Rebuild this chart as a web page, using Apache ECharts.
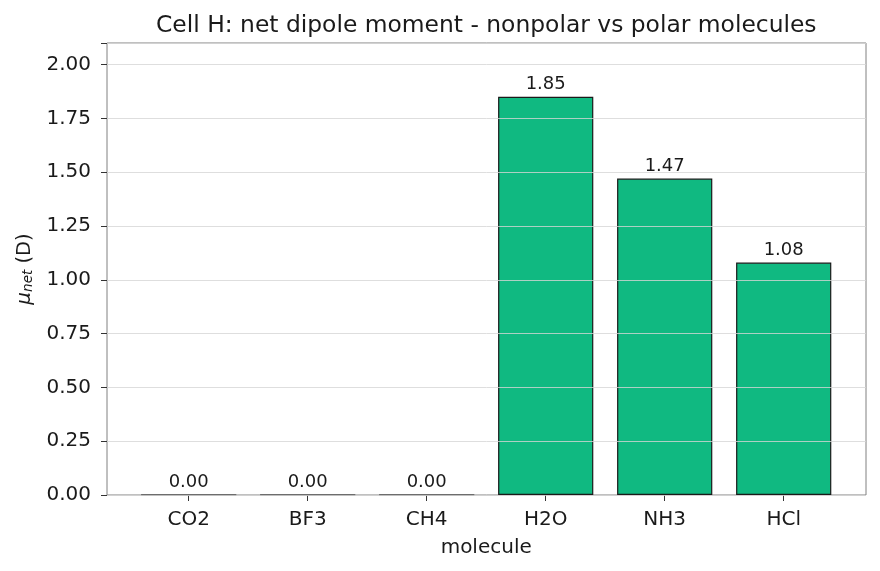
<!DOCTYPE html>
<html>
<head>
<meta charset="utf-8">
<script src="https://cdn.jsdelivr.net/npm/echarts@6/dist/echarts.min.js"></script>
<style>
  html, body { margin: 0; padding: 0; background: #ffffff; }
  #chart { width: 880px; height: 571px; }
</style>
</head>
<body>
<div id="chart"></div>
<script>
// data
var molecules = ['CO2', 'BF3', 'CH4', 'H2O', 'NH3', 'HCl'];
var dipole = [0.00, 0.00, 0.00, 1.85, 1.47, 1.08];
var yTicks = [0, 0.25, 0.5, 0.75, 1.0, 1.25, 1.5, 1.75, 2.0];

var font = 'DejaVu Sans';
var chart = echarts.init(document.getElementById('chart'));

var option = {
    backgroundColor: '#ffffff',
    animation: false,
    textStyle: { fontFamily: font },
    title: {
        text: 'Cell H: net dipole moment - nonpolar vs polar molecules',
        left: 151,
        top: 9,
        textStyle: { fontFamily: font, fontSize: 23.4, fontWeight: 'normal', color: '#1a1a1a' }
    },
    grid: [
        // frame + y axis, full plot area
        { left: 107, right: 14, top: 43, bottom: 76, show: true, borderColor: '#808080', borderWidth: 1, backgroundColor: 'transparent' },
        // bars sit in a narrower band so the outer margins match
        { left: 129.2, width: 714, top: 43, bottom: 76 }
    ],
    xAxis: [
        { type: 'value', gridIndex: 0, min: 0, max: 1, show: false },
        {
            type: 'category',
            gridIndex: 1,
            data: molecules,
            name: 'molecule',
            nameLocation: 'middle',
            nameGap: 43,
            nameTextStyle: { fontFamily: font, fontSize: 20, color: '#1a1a1a' },
            axisLine: { show: false },
            axisTick: { show: true, alignWithLabel: true, length: 6, lineStyle: { color: '#333' } },
            axisLabel: { fontFamily: font, fontSize: 20, color: '#1a1a1a', margin: 15 }
        }
    ],
    yAxis: [
        {
            type: 'value',
            gridIndex: 0,
            min: 0,
            max: 2.1,
            interval: 0.25,
            z: 5,
            name: '{mu|μ}{sub|net} (D)',
            nameLocation: 'middle',
            nameRotate: 90,
            nameGap: 68,
            nameTextStyle: {
                fontFamily: font, fontSize: 19.5, color: '#1a1a1a',
                rich: {
                    mu: { fontFamily: font, fontSize: 20, fontStyle: 'italic', color: '#1a1a1a' },
                    sub: { fontFamily: font, fontSize: 13.5, fontStyle: 'italic', color: '#1a1a1a', verticalAlign: 'bottom', padding: [8, 0, 0, 0] }
                }
            },
            axisLine: { show: false },
            axisTick: { show: true, length: 6, lineStyle: { color: '#333' } },
            axisLabel: {
                fontFamily: font, fontSize: 20, color: '#1a1a1a', margin: 16,
                formatter: function (v) {
                    return yTicks.some(function (t) { return Math.abs(t - v) < 1e-6; }) ? v.toFixed(2) : '';
                }
            },
            splitLine: { show: true, lineStyle: { color: '#d6d6d6', width: 0.8 } }
        },
        { type: 'value', gridIndex: 1, min: 0, max: 2.1, show: false }
    ],
    series: [
        {
            type: 'bar',
            xAxisIndex: 1,
            yAxisIndex: 1,
            data: dipole,
            barWidth: '80%',
            itemStyle: { color: '#10b981', borderColor: '#1a1a1a', borderWidth: 1.2 },
            label: {
                show: true,
                position: 'top',
                distance: 3,
                fontFamily: font,
                fontSize: 18,
                color: '#1a1a1a',
                formatter: function (p) { return p.value.toFixed(2); }
            }
        }
    ]
};

chart.setOption(option);
</script>
</body>
</html>
